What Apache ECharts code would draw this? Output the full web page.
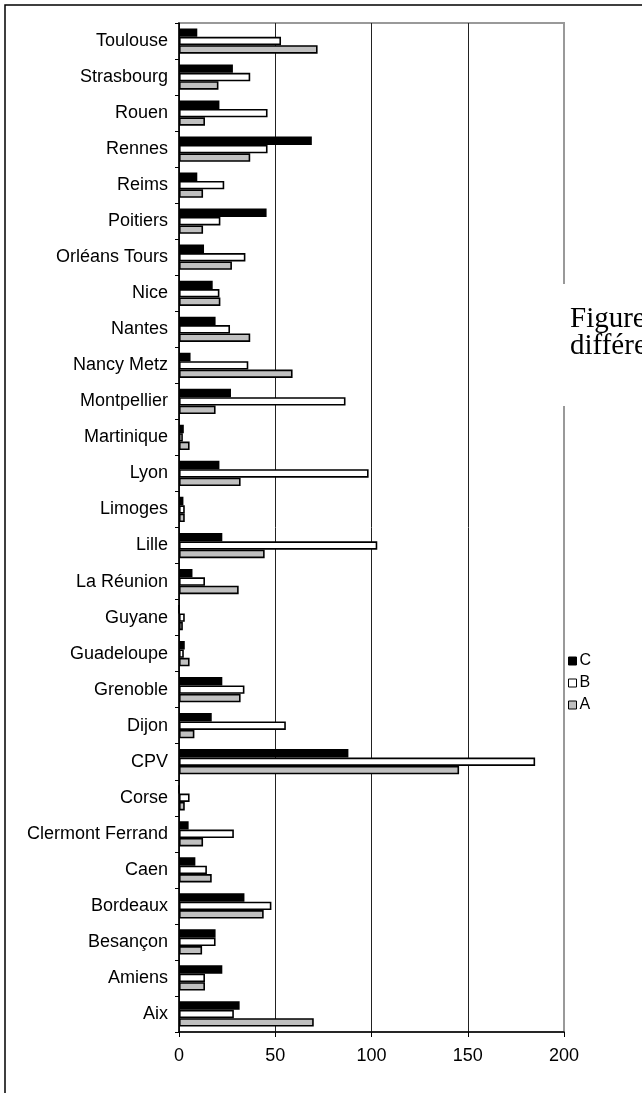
<!DOCTYPE html>
<html>
<head>
<meta charset="utf-8">
<script src="https://cdn.jsdelivr.net/npm/echarts@6/dist/echarts.min.js"></script>
<style>
  html, body { margin: 0; padding: 0; background: #fff; }
  #main { width: 642px; height: 1093px; }
</style>
</head>
<body>
<div id="main"></div>
<script>
// categories bottom -> top
const academies = ['Aix', 'Amiens', 'Besançon', 'Bordeaux', 'Caen', 'Clermont Ferrand', 'Corse', 'CPV',
    'Dijon', 'Grenoble', 'Guadeloupe', 'Guyane', 'La Réunion', 'Lille', 'Limoges', 'Lyon', 'Martinique',
    'Montpellier', 'Nancy Metz', 'Nantes', 'Nice', 'Orléans Tours', 'Poitiers', 'Reims', 'Rennes', 'Rouen',
    'Strasbourg', 'Toulouse'];
const serieA = [70, 13.5, 12, 44, 17, 12.5, 3, 145.5, 8, 32, 5.5, 2, 31, 44.5, 3, 32, 5.5,
    19, 59, 37, 21.5, 27.5, 12.5, 12.5, 37, 13.5, 20.5, 72];
const serieB = [28.5, 13.5, 19, 48, 14.5, 28.5, 5.5, 185, 55.5, 34, 2.5, 3, 13.5, 103, 3, 98.5, 2,
    86.5, 36, 26.5, 21, 34.5, 21.5, 23.5, 46, 46, 37, 53];
const serieC = [31.5, 22.5, 19, 34, 8.5, 5, 0, 88, 17, 22.5, 3, 0, 7, 22.5, 2.3, 21, 2.5,
    27, 6, 19, 17.5, 13, 45.5, 9.5, 69, 21, 28, 9.5];
const xTicks = [0, 50, 100, 150, 200];

const chart = echarts.init(document.getElementById('main'));

function barSerie(name, data, color) {
    return {
        name: name,
        type: 'bar',
        data: data,
        barGap: '0%',
        barCategoryGap: '30%',
        itemStyle: { color: color, borderColor: '#000', borderWidth: 1.6 },
        emphasis: { disabled: true }
    };
}

chart.setOption({
    animation: false,
    grid: {
        left: 179, right: 78, top: 23, bottom: 61,
        show: true, borderColor: '#999', borderWidth: 2, backgroundColor: 'transparent'
    },
    legend: {
        data: ['C', 'B', 'A'],
        orient: 'vertical',
        left: 563, top: 648,
        itemWidth: 8, itemHeight: 8, itemGap: 6,
        icon: 'rect',
        itemStyle: { borderWidth: 1, borderColor: '#000' },
        textStyle: { fontFamily: 'Liberation Sans', fontSize: 16, color: '#000', padding: [0, 0, 0, -2] }
    },
    xAxis: {
        type: 'value',
        min: xTicks[0], max: xTicks[xTicks.length - 1], interval: 50,
        axisLine: { show: true, lineStyle: { color: '#000', width: 1.5 } },
        axisTick: { show: true, length: 5, lineStyle: { color: '#000' } },
        axisLabel: { margin: 15, fontFamily: 'Liberation Sans', fontSize: 18, color: '#000' },
        splitLine: { show: true, lineStyle: { color: ['#222', '#222', '#222', '#222', '#999'], width: 1 } }
    },
    yAxis: {
        type: 'category',
        data: academies,
        axisLine: { show: true, lineStyle: { color: '#000', width: 1.5 } },
        axisTick: { show: true, length: 4, lineStyle: { color: '#000' } },
        axisLabel: { margin: 11, fontFamily: 'Liberation Sans', fontSize: 18, color: '#000' }
    },
    graphic: [
        // outer frame (right/bottom edges fall outside the picture)
        { type: 'rect', shape: { x: 5, y: 5, width: 800, height: 1200 }, style: { fill: 'none', stroke: '#000', lineWidth: 1.5 }, z: 100 },
        // title box overlapping the plot border
        { type: 'rect', shape: { x: 560, y: 284, width: 90, height: 122 }, style: { fill: '#fff' }, z: 100 },
        { type: 'text', left: 570, top: 305, z: 101,
          style: { text: 'Figure\ndifférentes', font: '29px "Liberation Serif"', lineHeight: 27, fill: '#000' } }
    ],
    // series order C, B, A puts C at the top of each group
    series: [
        barSerie('C', serieC, '#000'),
        barSerie('B', serieB, '#fff'),
        barSerie('A', serieA, '#c0c0c0')
    ]
});

window.addEventListener('resize', function () {
    chart.resize();
});
</script>
</body>
</html>
